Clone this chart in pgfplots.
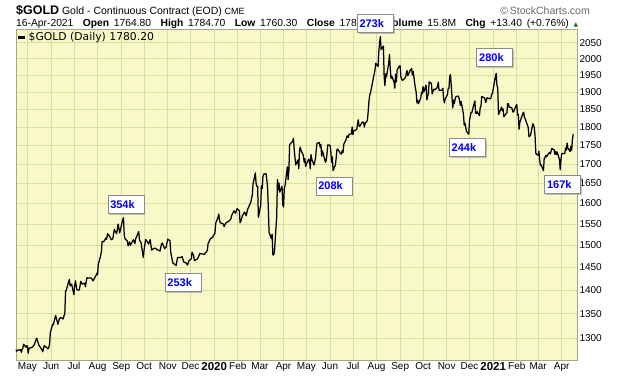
\documentclass[border=0pt]{standalone}
\usepackage{fontspec}
\setmainfont{Liberation Sans}
\newfontfamily\vfont{DejaVu Sans}
\usepackage{pgfplots}
\pgfplotsset{compat=1.18}
\usetikzlibrary{shadows}
\definecolor{bg}{RGB}{248,248,200}
\definecolor{gridc}{RGB}{214,222,160}
\definecolor{yearc}{RGB}{176,190,116}
\definecolor{bordc}{RGB}{165,165,140}
\definecolor{annblue}{RGB}{0,0,235}
\definecolor{trigreen}{RGB}{40,110,40}
\tikzset{ann/.style={draw=black!45, fill=white, drop shadow={shadow xshift=1.5pt, shadow yshift=-1.5pt, opacity=0.45}, text=annblue, font=\fontsize{11}{12}\selectfont\bfseries, text width=31pt, minimum height=18pt, inner xsep=2.5pt, inner ysep=1pt, align=left}}
\begin{document}
\begin{tikzpicture}[x=1pt,y=1pt]
\path[use as bounding box] (0,0) rectangle (620,376);
% header
\node[anchor=base west, inner sep=0] at (16,361.2) {{\fontsize{12.5}{13}\selectfont\bfseries \$GOLD}\ {\fontsize{10.5}{11}\selectfont Gold - Continuous Contract (EOD)}\ {\fontsize{9}{10}\selectfont CME}};
\node[anchor=base east, inner sep=0, text=black!60] at (590,361.2) {\fontsize{10.5}{11}\selectfont \copyright\,StockCharts.com};
\node[anchor=base west, inner sep=0] at (16,350) {\fontsize{10.3}{11}\selectfont\makebox[562pt][s]{16-Apr-2021\ \ \textbf{Open} 1764.80\ \ \textbf{High} 1784.70\ \ \textbf{Low} 1760.30\ \ \textbf{Close} 1780.20\ \ \textbf{Volume} 15.8M\ \ \textbf{Chg} +13.40 (+0.76\%) {\vfont\color{trigreen}\fontsize{6}{6}\selectfont ▲}}};
\begin{axis}[
  at={(16pt,16pt)}, anchor=south west,
  scale only axis, width=561pt, height=330.5pt,
  xmin=-260, xmax=476,
  ymode=log, ymin=1257, ymax=2092,
  axis background/.style={fill=bg},
  axis line style={bordc},
  tick style={draw=none},
  xmajorgrids, ymajorgrids,
  major grid style={gridc, line width=0.7pt},
  xtick={-245,-214,-184,-153,-122,-92,-61,-31,31,60,91,121,152,182,213,244,274,305,335,397,425,456},
  xticklabels={May,Jun,Jul,Aug,Sep,Oct,Nov,Dec,Feb,Mar,Apr,May,Jun,Jul,Aug,Sep,Oct,Nov,Dec,Feb,Mar,Apr},
  extra x ticks={0,366},
  extra x tick labels={2020,2021},
  extra x tick style={grid style={yearc, line width=0.7pt}, xticklabel style={font=\fontsize{11.5}{12}\selectfont\bfseries}},
  xticklabel style={font=\fontsize{10}{11}\selectfont, yshift=1pt},
  ytick={1300,1350,1400,1450,1500,1550,1600,1650,1700,1750,1800,1850,1900,1950,2000,2050},
  yticklabels={1300,1350,1400,1450,1500,1550,1600,1650,1700,1750,1800,1850,1900,1950,2000,2050},
  yticklabel pos=right,
  yticklabel style={font=\fontsize{10}{11}\selectfont, xshift=-1pt},
  clip=false,
  legend style={at={(0,1)}, anchor=north west, draw=none, fill=none, font=\vfont\fontsize{10.8}{11}\selectfont, inner sep=1pt, row sep=0pt},
  legend cell align=left,
  legend image code/.code={\draw[black, line width=2.5pt] (0pt,0pt) -- (7pt,0pt);},
]
\addplot[black, line width=1.25pt, line join=round] coordinates {
(-260,1277) (-259,1274) (-258,1276) (-254,1277) (-253,1272) (-252,1278) (-251,1280) (-250,1288) (-247,1282) (-246,1285)
(-245,1284) (-244,1270) (-243,1280) (-240,1281) (-238,1283) (-236,1287) (-233,1300) (-232,1296) (-230,1286) (-226,1277)
(-225,1273) (-223,1285) (-218,1279) (-217,1281) (-216,1288) (-215,1311) (-212,1328) (-211,1327) (-210,1334) (-208,1346)
(-205,1328) (-203,1340) (-201,1342) (-198,1339) (-197,1346) (-196,1349) (-195,1397) (-194,1400) (-191,1418) (-190,1423)
(-189,1409) (-188,1412) (-187,1413) (-184,1390) (-183,1410) (-182,1420) (-180,1400) (-177,1400) (-175,1419) (-173,1413)
(-170,1415) (-169,1407) (-167,1427) (-166,1426) (-163,1426) (-161,1426) (-159,1420) (-155,1432) (-154,1437) (-153,1433)
(-152,1457) (-149,1476) (-148,1484) (-147,1509) (-146,1509) (-145,1508) (-142,1517) (-141,1514) (-140,1527) (-138,1523)
(-135,1513) (-133,1515) (-131,1537) (-128,1527) (-126,1550) (-124,1529) (-120,1560) (-119,1565) (-118,1525) (-117,1515)
(-114,1510) (-113,1499) (-111,1508) (-110,1500) (-106,1513) (-104,1504) (-103,1515) (-99,1532) (-98,1512) (-96,1507)
(-93,1472) (-92,1489) (-90,1513) (-89,1512) (-86,1503) (-84,1513) (-82,1489) (-79,1493) (-77,1493) (-75,1490)
(-71,1487) (-69,1504) (-68,1505) (-65,1492) (-63,1496) (-61,1514) (-58,1511) (-57,1484) (-55,1466) (-54,1459)
(-51,1456) (-50,1454) (-48,1472) (-44,1472) (-42,1474) (-40,1462) (-37,1460) (-35,1455) (-33,1465) (-30,1469)
(-29,1484) (-27,1477) (-26,1465) (-22,1469) (-20,1476) (-19,1481) (-15,1480) (-13,1479) (-9,1488) (-8,1504)
(-5,1515) (-2,1519) (-1,1523) (1,1528) (2,1552) (5,1566) (6,1574) (7,1560) (8,1553) (12,1550)
(13,1544) (15,1552) (20,1558) (22,1563) (23,1571) (26,1582) (28,1576) (30,1587) (33,1582) (34,1553)
(35,1557) (37,1570) (40,1579) (42,1570) (44,1586) (48,1603) (49,1612) (50,1620) (51,1649) (54,1677)
(55,1650) (56,1643) (57,1643) (58,1566) (61,1595) (62,1644) (63,1637) (64,1668) (65,1674) (68,1675)
(69,1660) (70,1642) (71,1591) (72,1530) (75,1516) (76,1526) (77,1478) (78,1478) (79,1484) (82,1567)
(83,1660) (84,1634) (85,1651) (86,1628) (89,1643) (90,1596) (91,1591) (92,1637) (93,1645) (96,1693)
(97,1660) (98,1684) (99,1752) (103,1761) (104,1769) (105,1738) (106,1717) (107,1698) (110,1711) (111,1688)
(112,1738) (113,1745) (114,1736) (117,1723) (118,1705) (119,1714) (120,1694) (121,1700) (124,1713) (125,1711)
(126,1688) (127,1725) (128,1713) (131,1698) (132,1706) (133,1716) (134,1740) (135,1756) (138,1757) (139,1745)
(140,1752) (141,1721) (142,1735) (146,1705) (147,1710) (148,1727) (149,1751) (152,1750) (153,1734) (154,1705)
(155,1719) (156,1683) (159,1698) (160,1715) (161,1738) (162,1740) (163,1737) (166,1727) (167,1727) (168,1736)
(169,1730) (170,1753) (173,1765) (174,1775) (175,1775) (176,1771) (177,1780) (180,1781) (181,1800) (182,1779)
(183,1789) (187,1793) (188,1809) (189,1820) (190,1803) (191,1802) (194,1813) (195,1814) (196,1813) (197,1800)
(198,1810) (201,1818) (202,1842) (203,1871) (204,1890) (205,1897) (208,1931) (209,1944) (210,1953) (211,1966)
(212,1986) (215,1976) (216,2021) (217,2050) (218,2069) (219,2028) (222,2039) (223,1946) (224,1919) (225,1954)
(226,1944) (229,1987) (230,2013) (231,1970) (232,1940) (233,1947) (236,1929) (237,1911) (238,1953) (239,1930)
(240,1965) (243,1978) (244,1978) (245,1944) (246,1938) (247,1934) (251,1943) (252,1954) (253,1964) (254,1948)
(257,1964) (258,1966) (259,1970) (260,1950) (261,1962) (264,1910) (265,1900) (266,1868) (267,1876) (268,1866)
(271,1882) (272,1899) (273,1895) (274,1916) (275,1900) (278,1920) (279,1877) (280,1887) (281,1895) (282,1930)
(285,1925) (286,1894) (287,1901) (288,1908) (289,1906) (292,1911) (293,1917) (294,1929) (295,1905) (296,1905)
(299,1905) (300,1911) (301,1879) (302,1868) (303,1879) (306,1892) (307,1910) (308,1910) (309,1946) (310,1952)
(313,1854) (314,1876) (315,1866) (316,1878) (317,1886) (320,1888) (321,1885) (322,1873) (323,1861) (324,1872)
(327,1837) (328,1805) (329,1811) (331,1788) (334,1780) (335,1818) (336,1830) (337,1841) (338,1840) (341,1866)
(342,1874) (343,1839) (344,1838) (345,1843) (348,1832) (349,1855) (350,1858) (351,1887) (352,1886) (355,1882)
(356,1870) (357,1874) (358,1883) (362,1880) (363,1882) (364,1893) (365,1895) (369,1946) (370,1955) (371,1918)
(372,1913) (373,1835) (376,1850) (377,1856) (378,1846) (379,1851) (380,1829) (384,1840) (385,1866) (386,1866)
(387,1856) (390,1855) (391,1850) (392,1842) (393,1843) (394,1850) (397,1864) (398,1833) (399,1835) (400,1794)
(401,1813) (404,1832) (405,1838) (406,1842) (407,1827) (408,1823) (412,1799) (413,1773) (414,1775) (415,1777)
(418,1809) (419,1806) (420,1797) (421,1775) (422,1728) (425,1723) (426,1734) (427,1711) (428,1697) (429,1698)
(432,1683) (433,1716) (434,1717) (435,1723) (436,1719) (439,1729) (440,1731) (441,1727) (442,1734) (443,1741)
(446,1738) (447,1726) (448,1733) (449,1725) (450,1732) (453,1712) (454,1685) (455,1713) (456,1728) (460,1728)
(461,1743) (462,1737) (463,1756) (464,1743) (467,1733) (468,1747) (469,1737) (470,1766) (471,1780)
};
\addlegendentry{\$GOLD (Daily) 1780.20}
\node[ann] at (axis cs:-116,1597) {354k};
\node[ann] at (axis cs:-41,1417) {253k};
\node[ann] at (axis cs:157,1644) {208k};
\node[ann] at (axis cs:211,2112) {273k};
\node[ann] at (axis cs:368,2004) {280k};
\node[ann] at (axis cs:332,1744) {244k};
\node[ann] at (axis cs:457,1648) {167k};
\end{axis}
\end{tikzpicture}
\end{document}
